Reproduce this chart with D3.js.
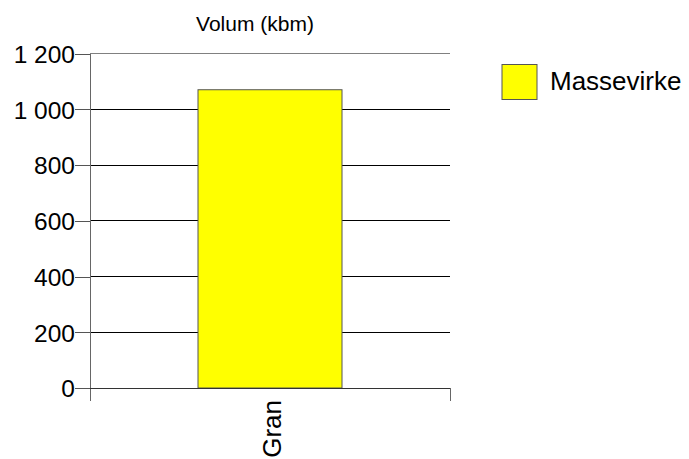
<!DOCTYPE html>
<html><head><meta charset="utf-8">
<script src="https://cdn.jsdelivr.net/npm/d3@7"></script>
<style>body{margin:0;background:#fff;} text{font-family:"Liberation Sans",Arial,sans-serif;}</style>
</head><body>
<svg id="c" width="689" height="459"></svg>
<script>
const categories = ["Gran"];
const seriesName = "Massevirke";
const values = [1070];
const yTicks = [0, 200, 400, 600, 800, 1000, 1200];
const title = "Volum (kbm)";

const svg = d3.select("#c");
const m = {l: 90, r: 450, t: 53.5, b: 388};
const x = d3.scaleBand().domain(categories).range([m.l, m.r]).paddingInner(0).paddingOuter(0);
const y = d3.scaleLinear().domain([0, 1200]).range([m.b, m.t]);
const fmt = v => d3.format(",")(v).replace(/,/g, " ");

// gridlines
svg.append("g").selectAll("line").data(yTicks.filter(d => d > 0)).join("line")
  .attr("x1", m.l).attr("x2", m.r).attr("y1", d => y(d)).attr("y2", d => y(d))
  .attr("stroke", d => d === 1200 ? "#808080" : "#000").attr("stroke-width", 1).attr("shape-rendering","crispEdges");

// bars
svg.append("g").selectAll("rect").data(values).join("rect")
  .attr("x", (d, i) => x(categories[i]) + x.bandwidth() * 0.3)
  .attr("width", x.bandwidth() * 0.4)
  .attr("y", d => y(d)).attr("height", d => y(0) - y(d))
  .attr("fill", "#ffff00").attr("stroke", "#555").attr("stroke-width", 1);

// y axis
const ya = svg.append("g").attr("transform", `translate(${m.l},0)`)
  .call(d3.axisLeft(y).tickValues(yTicks).tickFormat(fmt).tickSize(15).tickPadding(0));
ya.select(".domain").remove();
ya.selectAll(".tick line").attr("stroke", "#555").attr("shape-rendering","crispEdges");
ya.selectAll(".tick text").attr("font-size", 24.5).attr("fill", "#000").attr("dy", "0.36em")
  .attr("font-family", "Liberation Sans, Arial, sans-serif");
svg.append("line").attr("x1", m.l).attr("x2", m.l).attr("y1", m.t).attr("y2", m.b + 13)
  .attr("stroke", "#666").attr("shape-rendering","crispEdges");

// x axis
svg.append("line").attr("x1", m.l).attr("x2", m.r).attr("y1", m.b).attr("y2", m.b)
  .attr("stroke", "#333").attr("shape-rendering","crispEdges");
const edges = [m.r];
svg.append("g").selectAll("line").data(edges).join("line")
  .attr("x1", d => d).attr("x2", d => d).attr("y1", m.b).attr("y2", m.b + 13)
  .attr("stroke", "#666").attr("shape-rendering","crispEdges");
svg.append("g").selectAll("text").data(categories).join("text")
  .attr("transform", d => `translate(${x(d) + x.bandwidth()/2 + 11},${m.b + 12}) rotate(-90)`)
  .attr("text-anchor", "end").attr("font-size", 26).attr("fill", "#000").text(d => d);

// title
svg.append("text").attr("x", 255).attr("y", 31).attr("text-anchor", "middle")
  .attr("font-size", 21).attr("fill", "#000").text(title);

// legend
svg.append("rect").attr("x", 502).attr("y", 64.5).attr("width", 35).attr("height", 35)
  .attr("fill", "#ffff00").attr("stroke", "#555");
svg.append("text").attr("x", 550).attr("y", 90).attr("font-size", 26).attr("fill", "#000").text(seriesName);
</script>
</body></html>
